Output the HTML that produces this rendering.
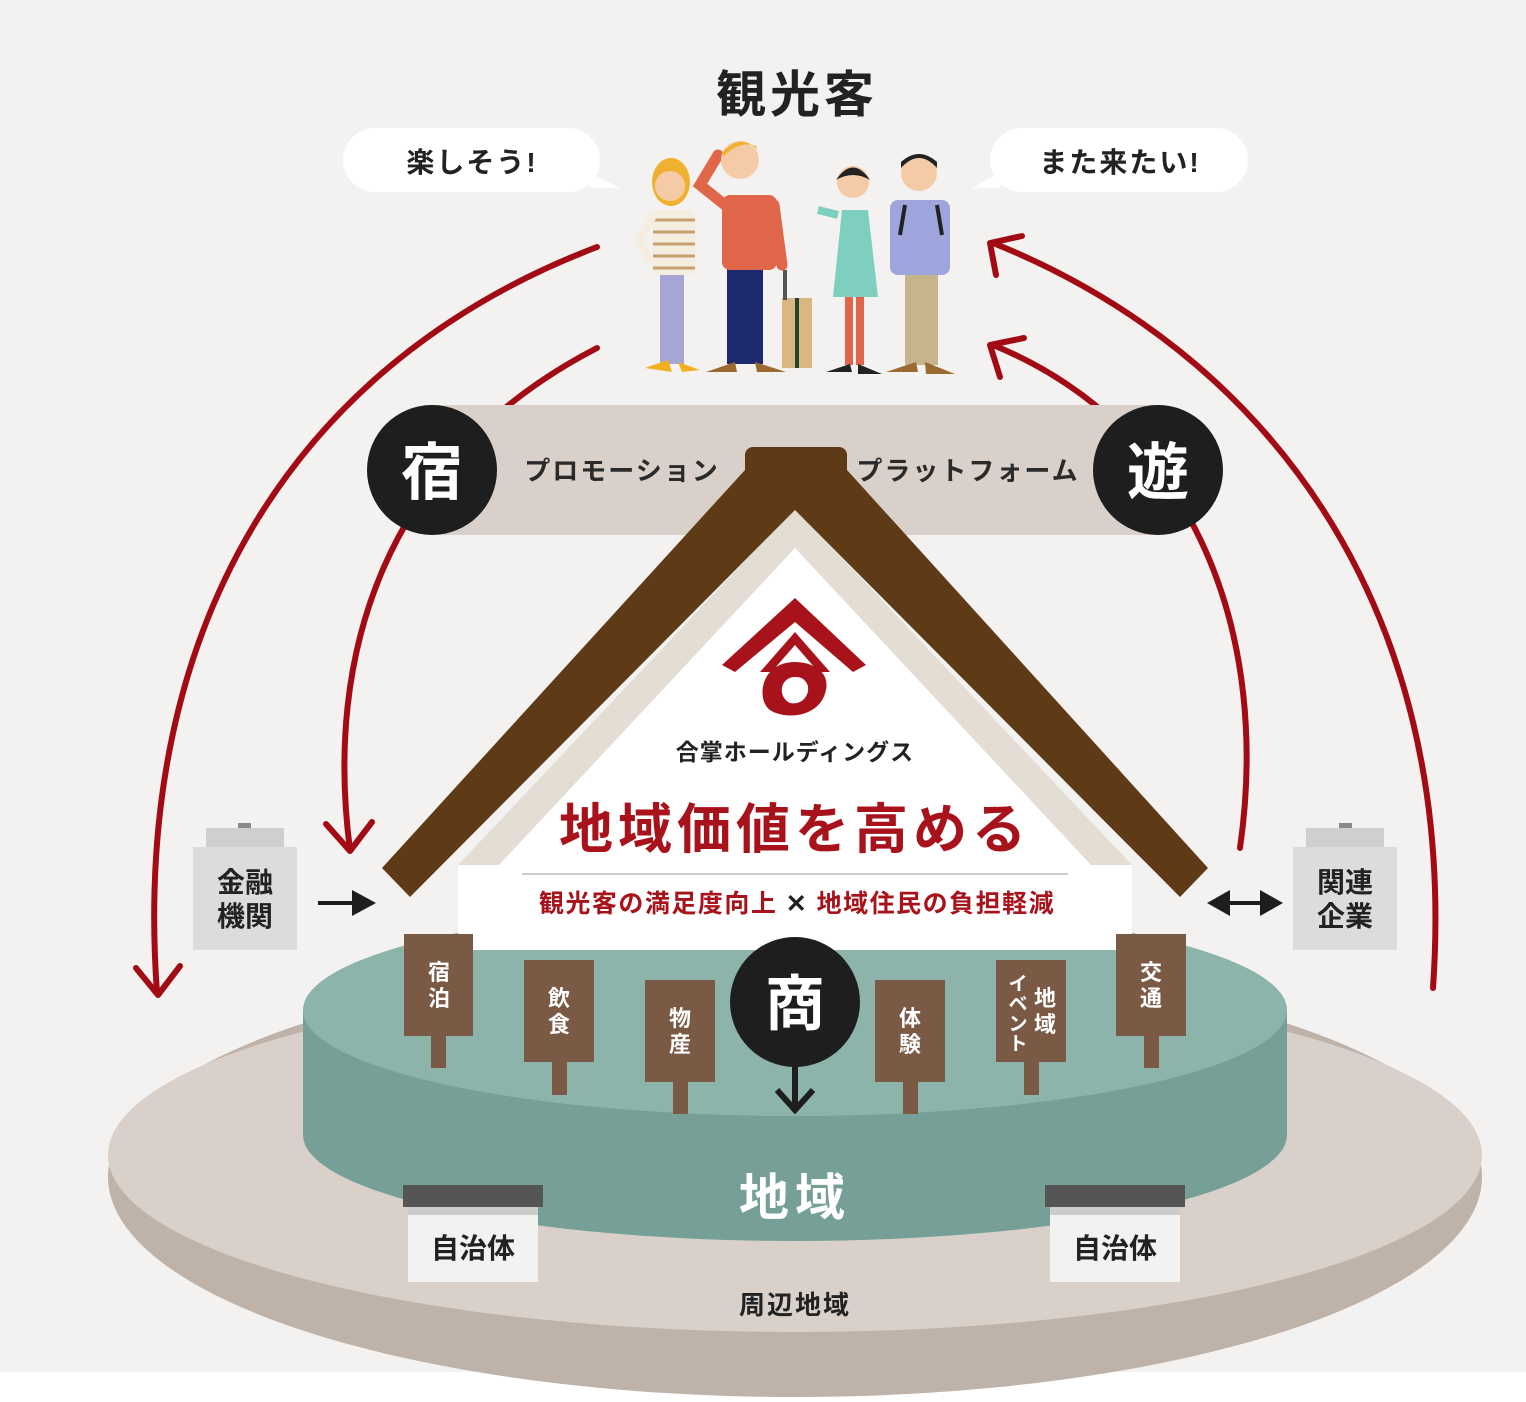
<!DOCTYPE html>
<html><head><meta charset="utf-8"><style>
html,body{margin:0;padding:0;background:#fff}
svg{display:block}
text{font-family:"Liberation Sans","Noto Sans CJK JP",sans-serif;font-weight:bold}
</style></head><body>
<svg width="1526" height="1402" viewBox="0 0 1526 1402" xmlns="http://www.w3.org/2000/svg">
<rect width="1526" height="1372" fill="#f4f2f0"/>
<!-- outer disk -->
<ellipse cx="795" cy="1177" rx="687" ry="220" fill="#bfb2a8"/>
<ellipse cx="795" cy="1155" rx="687" ry="177" fill="#d8d0c9"/>
<!-- green disk -->
<ellipse cx="795" cy="1135" rx="492" ry="106" fill="#76a097"/>
<rect x="303" y="1010" width="984" height="125" fill="#76a097"/>
<ellipse cx="795" cy="1010" rx="492" ry="106" fill="#8db4aa"/>
<!-- red arrows -->
<g fill="none" stroke="#a30b14" stroke-width="6" stroke-linecap="round" stroke-linejoin="round">
<path d="M597,247 C300,360 130,620 157,993"/>
<path d="M136,968 L158,995 L180,966"/>
<path d="M597,348 C380,460 325,660 350,850"/>
<path d="M326,824 L350,851 L372,822"/>
<path d="M1433,988 C1460,600 1260,350 993,243"/>
<path d="M996,275 L990,243 L1022,236"/>
<path d="M1240,848 C1270,640 1200,430 993,345"/>
<path d="M1000,377 L990,345 L1024,338"/>
</g>
<!-- platform bar -->
<rect x="430" y="405" width="730" height="130" fill="#d8d0c9"/>
<circle cx="432" cy="470" r="65" fill="#1e1e1e"/>
<circle cx="1158" cy="470" r="65" fill="#1e1e1e"/>
<text x="432" y="494" font-size="62" fill="#fff" text-anchor="middle">宿</text>
<text x="1158" y="494" font-size="62" fill="#fff" text-anchor="middle">遊</text>
<text x="622" y="480" font-size="26" fill="#2a2a2a" text-anchor="middle" letter-spacing="2">プロモーション</text>
<text x="968" y="480" font-size="26" fill="#2a2a2a" text-anchor="middle" letter-spacing="2">プラットフォーム</text>
<!-- house -->
<polygon points="795,508 458,865 458,950 1132,950 1132,865" fill="#e3ddd4"/>
<polygon points="795,548 485,880 485,950 1105,950 1105,880" fill="#fff"/>
<rect x="458" y="865" width="674" height="85" fill="#fff"/>
<polygon points="745,470 382,868 410,897 795,510 1180,897 1208,868 847,470" fill="#5e3a16"/>
<rect x="745" y="447" width="102" height="45" rx="8" fill="#5e3a16"/>
<!-- logo -->
<g fill="#a8121b">
<path d="M795,598 L722,665 L735,672 L795,622 L853,672 L866,665 Z"/>
<path d="M795,632 L760,672 L830,672 Z" fill="#a8121b"/>
<path d="M795,645 L775,668 L815,668 Z" fill="#fff"/>
<path d="M795,662 C760,662 756,700 770,710 C785,720 820,718 826,690 C830,670 810,662 795,662 Z"/>
<path d="M795,677 C780,677 777,697 790,703 C805,706 812,690 806,682 C803,678 800,677 795,677 Z" fill="#fff"/>
</g>
<text x="795" y="760" font-size="23" fill="#222" text-anchor="middle" letter-spacing="1">合掌ホールディングス</text>
<text x="795" y="848" font-size="54" fill="#a8121b" text-anchor="middle" letter-spacing="5">地域価値を高める</text>
<line x1="522" y1="874" x2="1068" y2="874" stroke="#ccc" stroke-width="2"/>
<text x="797" y="912" font-size="25" fill="#a8121b" text-anchor="middle" letter-spacing="1.5">観光客の満足度向上 <tspan fill="#222">✕</tspan> 地域住民の負担軽減</text>
<!-- signs -->
<g fill="#7a5a45">
<rect x="404" y="934" width="69" height="102"/><rect x="431" y="1036" width="15" height="32"/>
<rect x="524" y="960" width="70" height="102"/><rect x="552" y="1062" width="15" height="33"/>
<rect x="645" y="980" width="70" height="102"/><rect x="673" y="1082" width="15" height="32"/>
<rect x="875" y="980" width="70" height="102"/><rect x="903" y="1082" width="15" height="32"/>
<rect x="996" y="960" width="70" height="102"/><rect x="1024" y="1062" width="15" height="33"/>
<rect x="1116" y="934" width="70" height="102"/><rect x="1144" y="1036" width="15" height="32"/>
</g>
<g font-size="22" fill="#fff" text-anchor="middle">
<text x="439" y="980">宿</text><text x="439" y="1006">泊</text>
<text x="559" y="1006">飲</text><text x="559" y="1032">食</text>
<text x="680" y="1026">物</text><text x="680" y="1052">産</text>
<text x="910" y="1026">体</text><text x="910" y="1052">験</text>
<text x="1045" y="1006">地</text><text x="1045" y="1032">域</text>
<text x="1018" y="990" font-size="19">イ</text><text x="1018" y="1010" font-size="19">ベ</text><text x="1018" y="1030" font-size="19">ン</text><text x="1018" y="1050" font-size="19">ト</text>
<text x="1151" y="980">交</text><text x="1151" y="1006">通</text>
</g>
<circle cx="795" cy="1002" r="65" fill="#1e1e1e"/>
<text x="795" y="1025" font-size="60" fill="#fff" text-anchor="middle">商</text>
<path d="M795,1066 V1108 M777,1090 L795,1110 L813,1090" fill="none" stroke="#1e1e1e" stroke-width="6"/>
<text x="795" y="1215" font-size="50" fill="#fff" text-anchor="middle" letter-spacing="6">地域</text>
<!-- 自治体 -->
<rect x="403" y="1185" width="140" height="22" fill="#555"/>
<rect x="408" y="1207" width="130" height="8" fill="#ccc"/>
<rect x="408" y="1215" width="130" height="67" fill="#f2f2f0"/>
<text x="473" y="1258" font-size="28" fill="#222" text-anchor="middle">自治体</text>
<rect x="1045" y="1185" width="140" height="22" fill="#555"/>
<rect x="1050" y="1207" width="130" height="8" fill="#ccc"/>
<rect x="1050" y="1215" width="130" height="67" fill="#f2f2f0"/>
<text x="1115" y="1258" font-size="28" fill="#222" text-anchor="middle">自治体</text>
<text x="795" y="1314" font-size="26" fill="#222" text-anchor="middle" letter-spacing="2">周辺地域</text>
<!-- side boxes -->
<rect x="238" y="823" width="13" height="6" fill="#888"/>
<rect x="206" y="828" width="78" height="19" fill="#cfcfcf"/>
<rect x="193" y="847" width="104" height="103" fill="#dcdcdc"/>
<text x="245" y="892" font-size="28" fill="#222" text-anchor="middle">金融</text>
<text x="245" y="926" font-size="28" fill="#222" text-anchor="middle">機関</text>
<rect x="1339" y="823" width="13" height="6" fill="#888"/>
<rect x="1306" y="828" width="78" height="19" fill="#cfcfcf"/>
<rect x="1293" y="847" width="104" height="103" fill="#dcdcdc"/>
<text x="1345" y="892" font-size="28" fill="#222" text-anchor="middle">関連</text>
<text x="1345" y="926" font-size="28" fill="#222" text-anchor="middle">企業</text>
<line x1="318" y1="903" x2="356" y2="903" stroke="#1e1e1e" stroke-width="4"/>
<polygon points="352,890 376,903 352,916" fill="#1e1e1e"/>
<line x1="1225" y1="903" x2="1265" y2="903" stroke="#1e1e1e" stroke-width="4"/>
<polygon points="1230,890 1207,903 1230,916" fill="#1e1e1e"/>
<polygon points="1260,890 1283,903 1260,916" fill="#1e1e1e"/>
<!-- title & bubbles -->
<text x="797" y="112" font-size="50" fill="#222" text-anchor="middle" letter-spacing="4">観光客</text>
<rect x="343" y="128" width="257" height="64" rx="32" fill="#fff"/>
<polygon points="585,170 620,188 590,188" fill="#fff"/>
<text x="472" y="172" font-size="28" fill="#222" text-anchor="middle" letter-spacing="2">楽しそう!</text>
<rect x="990" y="128" width="258" height="64" rx="32" fill="#fff"/>
<polygon points="1005,170 972,188 1000,188" fill="#fff"/>
<text x="1120" y="172" font-size="28" fill="#222" text-anchor="middle" letter-spacing="2">また来たい!</text>
<!-- people -->
<g>
<rect x="660" y="272" width="24" height="92" fill="#a6a6d6"/>
<path d="M645,368 L668,360 L672,372 Z M678,362 L700,370 L682,372 Z" fill="#f0b020"/>
<rect x="653" y="210" width="42" height="65" rx="6" fill="#f4eee0"/>
<g stroke="#c8a070" stroke-width="3"><line x1="653" y1="220" x2="695" y2="220"/><line x1="653" y1="232" x2="695" y2="232"/><line x1="653" y1="244" x2="695" y2="244"/><line x1="653" y1="256" x2="695" y2="256"/><line x1="653" y1="268" x2="695" y2="268"/></g>
<path d="M655,212 L640,240 L650,262" fill="none" stroke="#f4eee0" stroke-width="8"/>
<ellipse cx="671" cy="182" rx="19" ry="24" fill="#f0b030"/>
<circle cx="670" cy="186" r="15" fill="#f5cba7"/>
<rect x="727" y="268" width="36" height="96" fill="#1e2a70"/>
<path d="M706,372 L735,362 L737,372 Z M755,362 L786,372 L757,372 Z" fill="#9a6a30"/>
<rect x="722" y="195" width="55" height="75" rx="8" fill="#e0664a"/>
<path d="M725,205 L700,185 L718,155" fill="none" stroke="#e0664a" stroke-width="11" stroke-linecap="round"/>
<path d="M774,205 L782,265" fill="none" stroke="#e0664a" stroke-width="11" stroke-linecap="round"/>
<rect x="782" y="298" width="30" height="70" fill="#d8b880"/>
<rect x="795" y="298" width="4" height="70" fill="#224433"/>
<rect x="783" y="270" width="4" height="30" fill="#555"/>
<circle cx="740" cy="160" r="19" fill="#f5cba7"/>
<path d="M722,153 Q740,132 758,150 L756,146 Q740,140 724,156 Z" fill="#f0b030"/>
<rect x="845" y="295" width="8" height="70" fill="#e0664a"/><rect x="856" y="295" width="8" height="70" fill="#e0664a"/>
<path d="M826,372 L850,364 L852,372 Z M858,364 L882,374 L858,374 Z" fill="#222"/>
<path d="M842,210 L868,210 L878,297 L833,297 Z" fill="#7fcfc0"/>
<path d="M838,215 L818,210" stroke="#7fcfc0" stroke-width="8"/>
<circle cx="853" cy="182" r="16" fill="#f5cba7"/>
<path d="M836,180 Q853,155 870,180 Q853,170 836,180 Z" fill="#222"/>
<rect x="905" y="273" width="33" height="92" fill="#c8b48c"/>
<path d="M886,372 L916,362 L918,372 Z M925,362 L955,374 L926,374 Z" fill="#9a6a30"/>
<rect x="890" y="200" width="60" height="75" rx="8" fill="#9ea4dc"/>
<line x1="905" y1="205" x2="900" y2="235" stroke="#222" stroke-width="4"/><line x1="937" y1="205" x2="942" y2="235" stroke="#222" stroke-width="4"/>
<circle cx="919" cy="173" r="18" fill="#f5cba7"/>
<path d="M901,168 Q919,148 937,168 L937,162 Q919,146 901,162 Z" fill="#222"/>
</g>
</svg>
</body></html>
